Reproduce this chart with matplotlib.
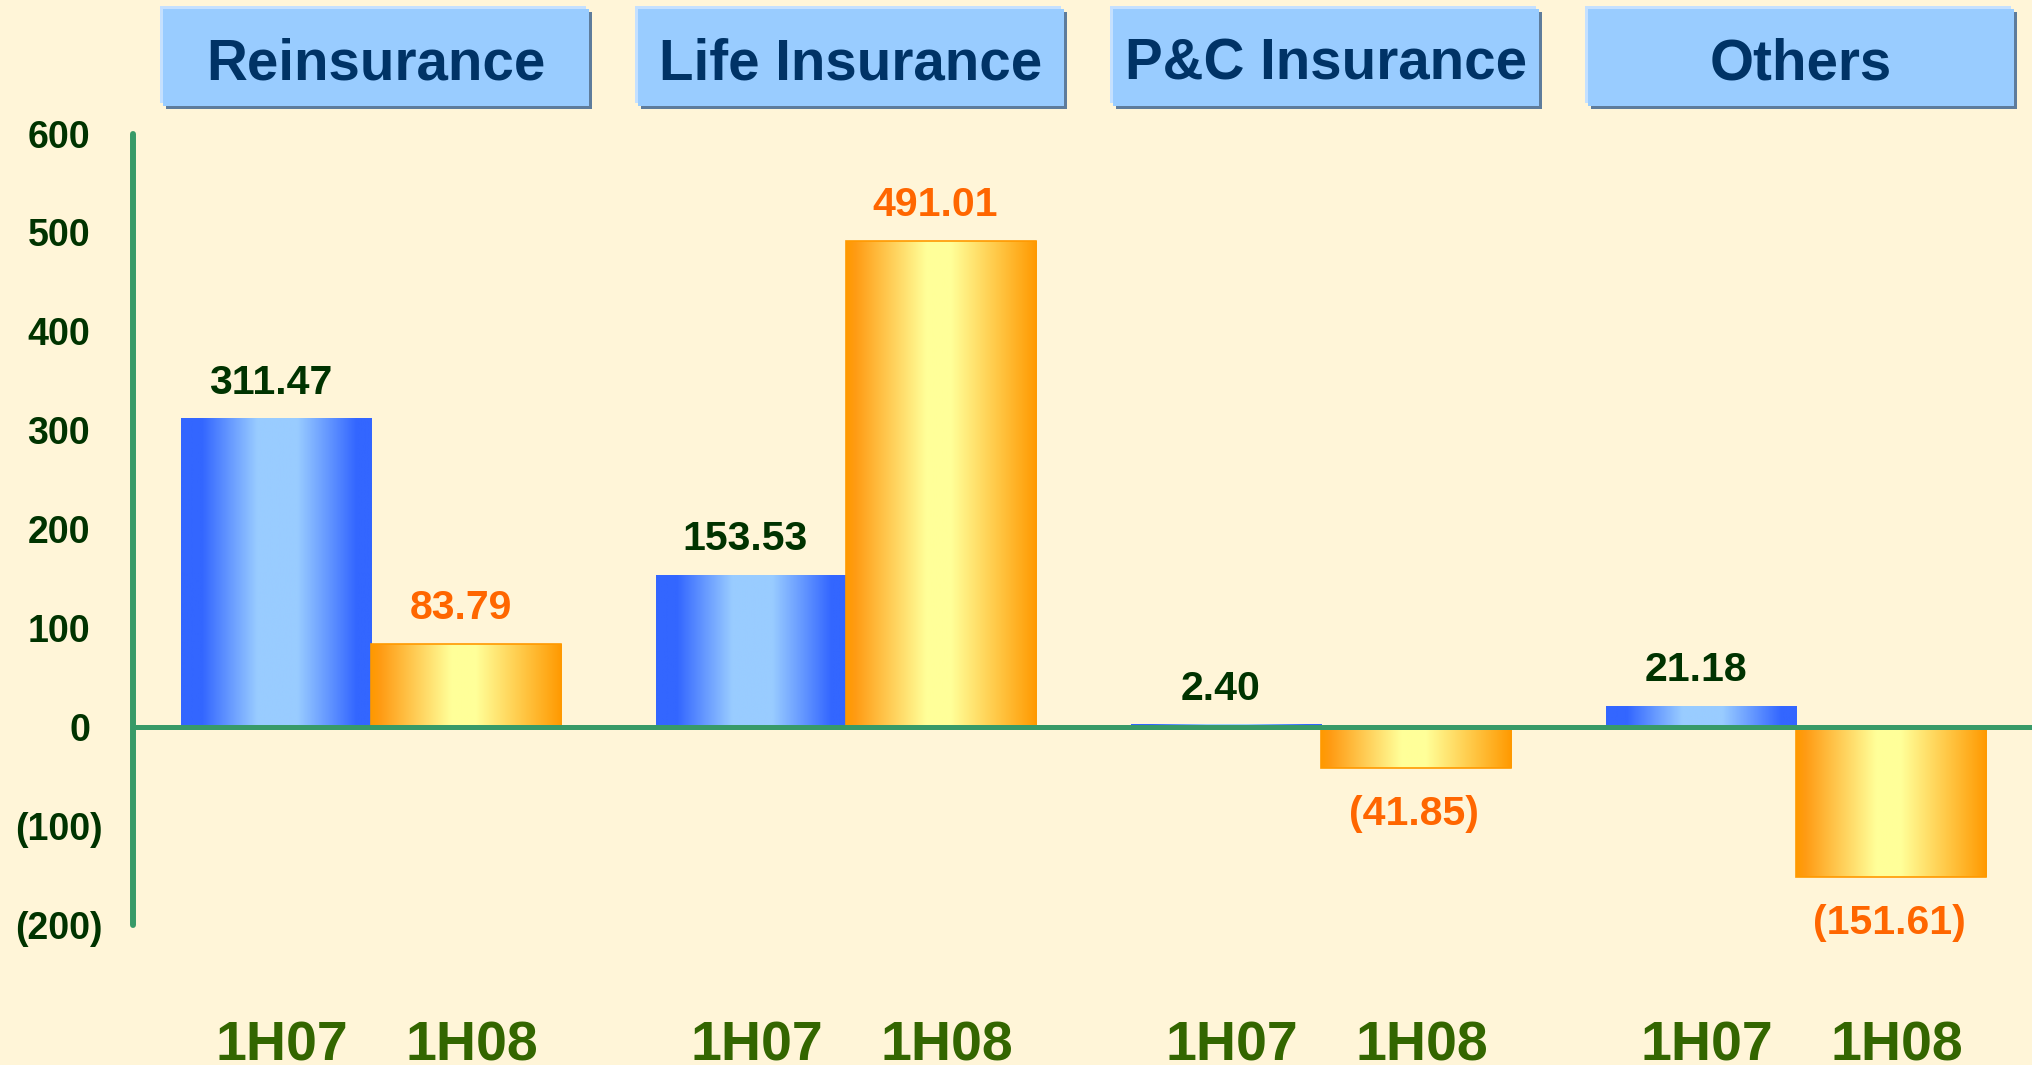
import numpy as np
import matplotlib
matplotlib.use("Agg")
import matplotlib.pyplot as plt
from matplotlib.colors import LinearSegmentedColormap
from matplotlib.patches import Rectangle
from matplotlib.transforms import ScaledTranslation

# --- data -------------------------------------------------------------
segments = ["Reinsurance", "Life Insurance", "P&C Insurance", "Others"]
periods = ["1H07", "1H08"]
vals_1h07 = [311.47, 153.53, 2.40, 21.18]
vals_1h08 = [83.79, 491.01, -41.85, -151.61]
y_ticks = [-200, -100, 0, 100, 200, 300, 400, 500, 600]

# --- style ------------------------------------------------------------
BG = "#FFF5D8"
AXIS_GREEN = "#389A68"
DARK_GREEN = "#003300"
CAT_GREEN = "#336600"
ORANGE_TXT = "#FF6600"
NAVY = "#003366"
FONT = "Liberation Sans"

blue_cmap = LinearSegmentedColormap.from_list("blue_bar", [
    (0.0, "#3366FF"), (0.11, "#3366FF"), (0.40, "#99CCFF"),
    (0.61, "#99CCFF"), (0.92, "#3366FF"), (1.0, "#3366FF")])
orange_cmap = LinearSegmentedColormap.from_list("orange_bar", [
    (0.0, "#FF9900"), (0.05, "#FF9C14"), (0.42, "#FFFF99"),
    (0.55, "#FFFF99"), (1.0, "#FF9900")])


def fmt(v):
    return f"{v:.2f}" if v >= 0 else f"({-v:.2f})"


fig = plt.figure(figsize=(20.33, 10.65), dpi=100)
fig.patch.set_facecolor(BG)
ax = fig.add_axes([133 / 2033, 0, 1 - 133 / 2033, 1])
ax.set_facecolor(BG)
px = 1 / fig.dpi

pitch = 2.5
xg = np.arange(len(segments)) * pitch
grad = np.linspace(0, 1, 256).reshape(1, -1)

series = [(vals_1h07, xg, blue_cmap, "none", DARK_GREEN),
          (vals_1h08, xg + 1, orange_cmap, "#FF9900", ORANGE_TXT)]

for vals, xs, cmap, edge, tcol in series:
    bars = ax.bar(xs, vals, width=1.0, facecolor="none", edgecolor=edge,
                  linewidth=1.2, zorder=1.6)
    for b, v in zip(bars, vals):
        x0, y0 = b.get_x(), b.get_y()
        w, h = b.get_width(), b.get_height()
        ax.imshow(grad, cmap=cmap, aspect="auto", zorder=1.5,
                  extent=[x0, x0 + w, min(y0, y0 + h), max(y0, y0 + h)])
        off = (-4, 18) if v >= 0 else (-1.5, -41)
        ax.annotate(fmt(v), (x0 + w / 2, v), xytext=off,
                    textcoords="offset points", ha="center", va="baseline",
                    fontsize=29.5, fontweight="bold", color=tcol,
                    family=FONT)

# category labels under each bar
for xs, lab in [(xg, periods[0]), (xg + 1, periods[1])]:
    for x in xs:
        ax.annotate(lab, (x, -337.7), xytext=(4, 0),
                    textcoords="offset points", ha="center", va="baseline",
                    fontsize=40, fontweight="bold", color=CAT_GREEN,
                    family=FONT)

# header boxes with highlight and shadow
for c, name in zip(xg + 0.525, segments):
    bw, y0, y1 = 2.24, 628, 726
    for dx, dy, col in [(-3, 3, "#C4E0FF"), (3, -3, "#5E7C9C"),
                        (0, 0, "#99CCFF")]:
        tr = ax.transData + ScaledTranslation(dx * px, dy * px,
                                              fig.dpi_scale_trans)
        ax.add_patch(Rectangle((c - bw / 2, y0), bw, y1 - y0, facecolor=col,
                               edgecolor="none", transform=tr, zorder=3,
                               clip_on=False))
    ax.text(c, 655, name, ha="center", va="baseline", fontsize=40.7,
            fontweight="bold", color=NAVY, family=FONT, zorder=4)

# axes
ax.set_xlim(-0.7526, 9.247)
ax.set_ylim(-341.8, 735)
ax.set_xticks([])
ax.set_yticks(y_ticks)
ax.set_yticklabels([f"{t}" if t >= 0 else f"({-t})" for t in y_ticks])
ax.tick_params(axis="y", length=0, pad=31, labelsize=27, labelcolor=DARK_GREEN)
for lab, t in zip(ax.get_yticklabels(), y_ticks):
    lab.set_fontweight("bold")
    lab.set_family(FONT)
    if t < 0:
        lab.set_transform(lab.get_transform()
                          + ScaledTranslation(13 * px, 0, fig.dpi_scale_trans))

for s in ["top", "right"]:
    ax.spines[s].set_visible(False)
ax.spines["left"].set_bounds(-200, 600)
ax.spines["left"].set_color(AXIS_GREEN)
ax.spines["left"].set_linewidth(4.3)
ax.spines["left"].set_capstyle("round")
ax.spines["bottom"].set_position(("data", 0))
ax.spines["bottom"].set_color(AXIS_GREEN)
ax.spines["bottom"].set_linewidth(3.6)
for s in ["left", "bottom"]:
    ax.spines[s].set_zorder(2.5)

fig.savefig("out.png", dpi=100, facecolor=BG)
